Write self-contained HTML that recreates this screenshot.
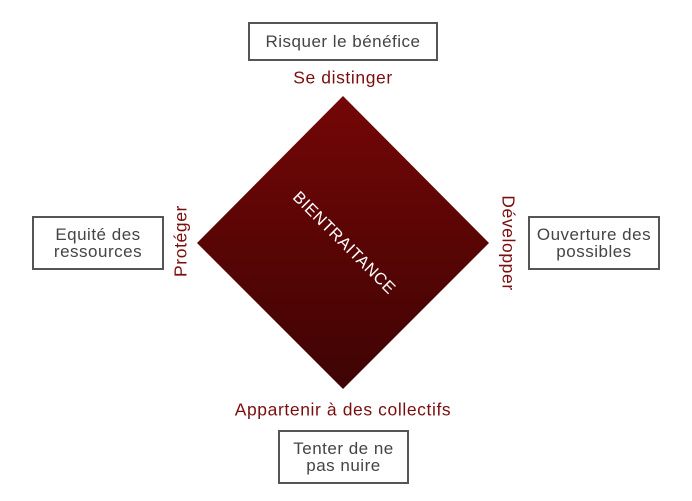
<!DOCTYPE html>
<html><head><meta charset="utf-8"><style>
body{margin:0;width:692px;height:501px;background:#fff;position:relative;overflow:hidden;font-family:"Liberation Sans","DejaVu Sans",sans-serif}
.box{position:absolute;border:2px solid #555;box-sizing:border-box;color:#444;font-size:17px;letter-spacing:0.5px;text-align:center;display:flex;align-items:center;justify-content:center;line-height:17px;white-space:nowrap}
.lab{position:absolute;color:#7a0e0e;font-size:17.5px;letter-spacing:0.6px;white-space:nowrap;transform:translate(-50%,-50%)}
</style></head><body>
<svg width="692" height="501" style="position:absolute;left:0;top:0">
<defs><linearGradient id="g" x1="0" y1="0" x2="0" y2="1"><stop offset="0" stop-color="#740606"/><stop offset="1" stop-color="#3f0404"/></linearGradient></defs>
<polygon points="343,96 489,243 343,389 197,243" fill="url(#g)"/>
<text x="0" y="0" transform="translate(344,243) rotate(45)" text-anchor="middle" dominant-baseline="central" fill="#fff" font-family="Liberation Sans, sans-serif" font-size="16.5" letter-spacing="0.5">BIENTRAITANCE</text>
</svg>
<div class="box" style="left:248px;top:22px;width:190px;height:39px">Risquer le bénéfice</div>
<div class="box" style="left:32px;top:216px;width:132px;height:54px">Equité des<br>ressources</div>
<div class="box" style="left:528px;top:216px;width:132px;height:54px">Ouverture des<br>possibles</div>
<div class="box" style="left:278px;top:430px;width:131px;height:54px">Tenter de ne<br>pas nuire</div>
<div class="lab" style="left:343px;top:78px">Se distinger</div>
<div class="lab" style="left:343px;top:410px">Appartenir à des collectifs</div>
<div class="lab" style="left:181px;top:241px;transform:translate(-50%,-50%) rotate(-90deg)">Protéger</div>
<div class="lab" style="left:508px;top:243px;transform:translate(-50%,-50%) rotate(90deg)">Développer</div>
</body></html>
